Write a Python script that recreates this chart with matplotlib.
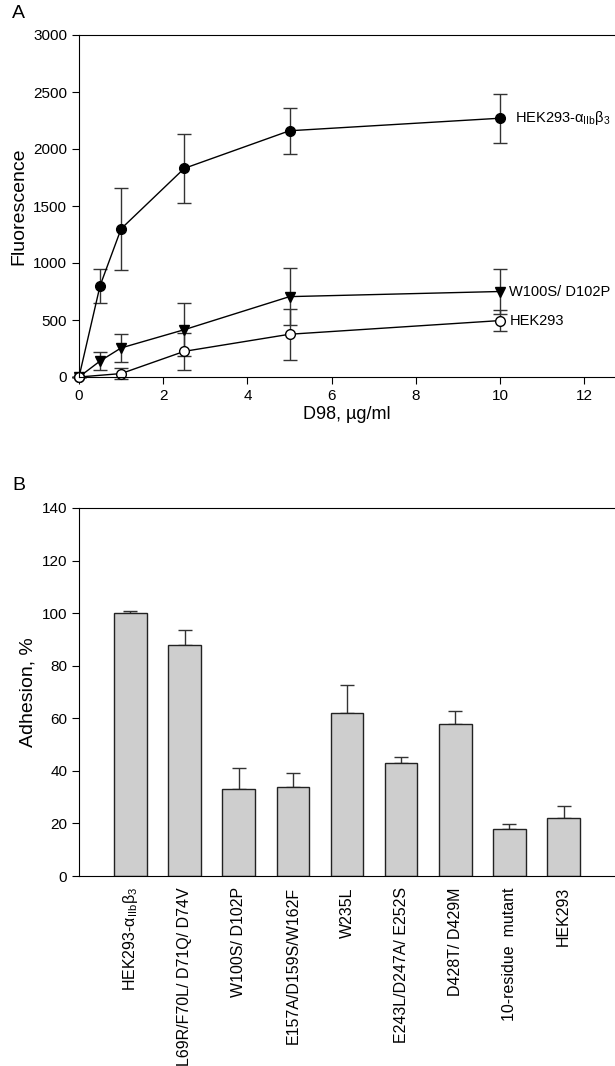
import matplotlib.pyplot as plt
import numpy as np

plt.rcParams['font.family'] = ['Liberation Sans', 'DejaVu Sans']

# Panel A data
dose = [0, 0.5, 1, 2.5, 5, 10]
wt_y = [0, 800, 1300, 1830, 2160, 2270]
wt_err = [0, 150, 360, 305, 200, 213]
mut_y = [0, 140, 255, 415, 705, 750]
mut_err = [0, 80, 122, 235, 250, 200]
hek_dose = [0, 1, 2.5, 5, 10]
hek_y = [0, 30, 225, 375, 495]
hek_err = [0, 45, 160, 225, 95]

# Panel B data
constructs = [r'HEK293-$\mathregular{\alpha_{IIb}\beta_3}$', 'L69R/F70L/ D71Q/ D74V',
              'W100S/ D102P', 'E157A/D159S/W162F', 'W235L',
              'E243L/D247A/ E252S', 'D428T/ D429M', '10-residue  mutant', 'HEK293']
adhesion = [100, 88, 33, 34, 62, 43, 58, 18, 22]
adhesion_err = [1, 5.5, 8, 5, 10.5, 2.3, 4.8, 1.8, 4.5]

fig = plt.figure(figsize=(6.15, 10.66), dpi=100)
W, H = 615, 1066
axA = fig.add_axes([79 / W, 1 - 377 / H, (615 - 79) / W, (377 - 35) / H])
axB = fig.add_axes([79 / W, 1 - 876 / H, (615 - 79) / W, (876 - 508) / H])

ebkw = dict(ecolor='#333333', elinewidth=1, capsize=5, capthick=1, color='black', lw=1)
axA.errorbar(dose, wt_y, yerr=wt_err, marker='o', ms=7, mfc='black', mec='black', clip_on=False, **ebkw)
axA.errorbar(dose, mut_y, yerr=mut_err, marker='v', ms=7, mfc='black', mec='black', clip_on=False, **ebkw)
axA.errorbar(hek_dose, hek_y, yerr=hek_err, marker='o', ms=7, mfc='white', mec='black', clip_on=False, **ebkw)

axA.text(10.35, wt_y[-1], r'HEK293-$\mathregular{\alpha_{IIb}\beta_3}$', va='center', fontsize=10.5)
axA.text(10.22, mut_y[-1], 'W100S/ D102P', va='center', fontsize=10.5)
axA.text(10.22, hek_y[-1], 'HEK293', va='center', fontsize=10.5)

axA.set_xlim(0, 12.73)
axA.set_ylim(0, 3000)
axA.set_xticks([0, 2, 4, 6, 8, 10, 12])
axA.set_yticks([0, 500, 1000, 1500, 2000, 2500, 3000])
axA.set_xlabel('D98, µg/ml', fontsize=13, labelpad=2)
axA.set_ylabel('Fluorescence', fontsize=14)
axA.spines['right'].set_visible(False)
axA.tick_params(labelsize=11, direction='out', length=5)

pos = np.arange(1, len(adhesion) + 1)
axB.bar(pos, adhesion, width=0.6, color='#cecece', edgecolor='#222222', lw=1, zorder=2)
axB.errorbar(pos, adhesion, yerr=[np.zeros(len(adhesion)), adhesion_err], fmt='none',
             ecolor='#333333', elinewidth=1, capsize=5, capthick=1, zorder=1)
axB.set_xlim(0.05, 9.95)
axB.set_ylim(0, 140)
axB.set_yticks(range(0, 141, 20))
axB.set_xticks(pos)
axB.set_xticklabels(constructs, rotation=90, fontsize=11.5)
axB.tick_params(axis='x', length=0, pad=8)
axB.tick_params(axis='y', labelsize=11, direction='out', length=5)
axB.set_ylabel('Adhesion, %', fontsize=14)
axB.spines['right'].set_visible(False)

fig.text(12 / W, 1 - 18 / H, 'A', fontsize=14)
fig.text(12 / W, 1 - 490 / H, 'B', fontsize=14)

fig.savefig('out.png', dpi=100)
